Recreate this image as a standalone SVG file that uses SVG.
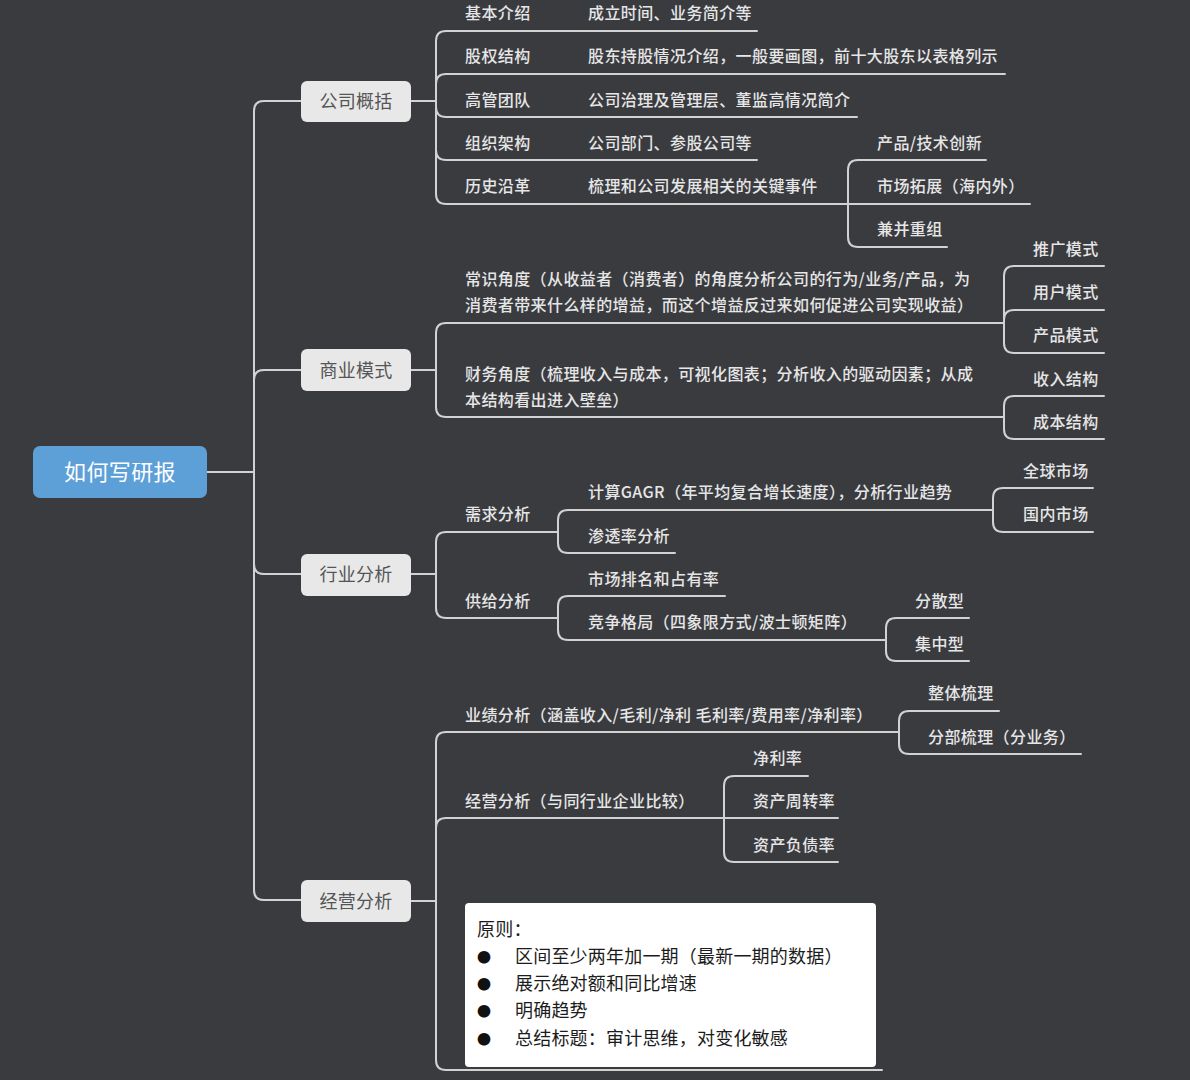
<svg xmlns="http://www.w3.org/2000/svg" width="1190" height="1080" viewBox="0 0 1190 1080">
<style>
.ln{fill:none;stroke:#d2d2d2;stroke-width:2;stroke-linecap:round}
.t{font-family:"Noto Sans CJK SC","Noto Sans",sans-serif;font-size:16px;font-weight:500;letter-spacing:0.4px;fill:#e6e6e6}
.n1{fill:#e8e8e8}
.n1t{font-family:"Noto Sans CJK SC","Noto Sans",sans-serif;font-size:18px;fill:#555555;text-anchor:middle;letter-spacing:0.3px}
.rt{font-family:"Noto Sans CJK SC","Noto Sans",sans-serif;font-size:22px;fill:#ffffff;text-anchor:middle;letter-spacing:0.4px}
.nt{font-family:"Noto Sans CJK SC","Noto Sans",sans-serif;font-size:18px;fill:#1c1c1c;letter-spacing:0.2px}
.bl{font-family:"Noto Sans CJK SC","DejaVu Sans",sans-serif;font-size:14px;fill:#111111;text-anchor:middle}
</style>
<rect x="0" y="0" width="1190" height="1080" fill="#3a3b3f"/>
<g id="connectors">
<path class="ln" d="M207,472 L254,472"/>
<path class="ln" d="M254,472 L254,111 Q254,101 264,101 L301,101"/>
<path class="ln" d="M254,472 L254,380 Q254,370 264,370 L301,370"/>
<path class="ln" d="M254,472 L254,564 Q254,574 264,574 L301,574"/>
<path class="ln" d="M254,472 L254,890 Q254,900 264,900 L301,900"/>
<path class="ln" d="M411,101 L436,101"/>
<path class="ln" d="M436,101 L436,41 Q436,31 446,31 L757,31"/>
<path class="ln" d="M436,101 L436,84 Q436,74 446,74 L1005,74"/>
<path class="ln" d="M436,101 L436,107 Q436,117 446,117 L857,117"/>
<path class="ln" d="M436,101 L436,150 Q436,160 446,160 L757,160"/>
<path class="ln" d="M436,101 L436,194 Q436,204 446,204 L848,204"/>
<path class="ln" d="M848,204 L848,170 Q848,160 858,160 L986,160"/>
<path class="ln" d="M848,204 L1030,204"/>
<path class="ln" d="M848,204 L848,237 Q848,247 858,247 L947,247"/>
<path class="ln" d="M411,370 L436,370"/>
<path class="ln" d="M436,370 L436,333 Q436,323 446,323 L1004,323"/>
<path class="ln" d="M436,370 L436,407 Q436,417 446,417 L1004,417"/>
<path class="ln" d="M1004,323 L1004,276 Q1004,266 1014,266 L1104,266"/>
<path class="ln" d="M1004,323 L1004,320 Q1004,310 1014,310 L1104,310"/>
<path class="ln" d="M1004,323 L1004,343 Q1004,353 1014,353 L1104,353"/>
<path class="ln" d="M1004,417 L1004,406 Q1004,396 1014,396 L1104,396"/>
<path class="ln" d="M1004,417 L1004,429 Q1004,439 1014,439 L1104,439"/>
<path class="ln" d="M411,574 L436,574"/>
<path class="ln" d="M436,574 L436,542 Q436,532 446,532 L558,532"/>
<path class="ln" d="M436,574 L436,608 Q436,618 446,618 L558,618"/>
<path class="ln" d="M558,532 L558,520 Q558,510 568,510 L993,510"/>
<path class="ln" d="M558,532 L558,543 Q558,553 568,553 L675,553"/>
<path class="ln" d="M993,510 L993,498 Q993,488 1003,488 L1093,488"/>
<path class="ln" d="M993,510 L993,522 Q993,532 1003,532 L1093,532"/>
<path class="ln" d="M558,618 L558,606 Q558,596 568,596 L725,596"/>
<path class="ln" d="M558,618 L558,630 Q558,640 568,640 L886,640"/>
<path class="ln" d="M886,640 L886,628 Q886,618 896,618 L969,618"/>
<path class="ln" d="M886,640 L886,651 Q886,661 896,661 L969,661"/>
<path class="ln" d="M411,901 L436,901"/>
<path class="ln" d="M436,901 L436,742 Q436,732 446,732 L899,732"/>
<path class="ln" d="M436,901 L436,828 Q436,818 446,818 L724,818"/>
<path class="ln" d="M436,901 L436,1060 Q436,1070 446,1070 L882,1070"/>
<path class="ln" d="M899,732 L899,721 Q899,711 909,711 L999,711"/>
<path class="ln" d="M899,732 L899,744 Q899,754 909,754 L1081,754"/>
<path class="ln" d="M724,818 L724,786 Q724,776 734,776 L808,776"/>
<path class="ln" d="M724,818 L838,818"/>
<path class="ln" d="M724,818 L724,852 Q724,862 734,862 L838,862"/>
</g>
<g id="root">
<rect x="33" y="446" width="174" height="52" rx="7" fill="#5da0d8"/>
<text class="rt" x="120" y="480">如何写研报</text>
</g>
<g id="n-gsgk"><rect class="n1" x="301" y="81" width="110" height="41" rx="6"/><text class="n1t" x="356" y="107.5">公司概括</text></g>
<g id="n-syms"><rect class="n1" x="301" y="349" width="110" height="42" rx="6"/><text class="n1t" x="356" y="376.5">商业模式</text></g>
<g id="n-hyfx"><rect class="n1" x="301" y="554" width="110" height="42" rx="6"/><text class="n1t" x="356" y="580.5">行业分析</text></g>
<g id="n-jyfx"><rect class="n1" x="301" y="880" width="110" height="42" rx="6"/><text class="n1t" x="356" y="907.5">经营分析</text></g>

<g id="n-jbjs"><text class="t" x="465" y="19">基本介绍</text></g>
<g id="n-gqjg"><text class="t" x="465" y="62">股权结构</text></g>
<g id="n-ggtd"><text class="t" x="465" y="106">高管团队</text></g>
<g id="n-zzjg"><text class="t" x="465" y="149">组织架构</text></g>
<g id="n-lsyg"><text class="t" x="465" y="192">历史沿革</text></g>
<g id="n-clsj"><text class="t" x="588" y="19">成立时间、业务简介等</text></g>
<g id="n-gdcg"><text class="t" x="588" y="62">股东持股情况介绍，一般要画图，前十大股东以表格列示</text></g>
<g id="n-gszl"><text class="t" x="588" y="106">公司治理及管理层、董监高情况简介</text></g>
<g id="n-gsbm"><text class="t" x="588" y="149">公司部门、参股公司等</text></g>
<g id="n-slgs"><text class="t" x="588" y="192">梳理和公司发展相关的关键事件</text></g>
<g id="n-cpjs"><text class="t" x="877" y="149">产品/技术创新</text></g>
<g id="n-sctz"><text class="t" x="877" y="192">市场拓展（海内外）</text></g>
<g id="n-jbcz"><text class="t" x="877" y="235">兼并重组</text></g>

<g id="n-csjd"><text class="t" x="465" y="285">常识角度（从收益者（消费者）的角度分析公司的行为/业务/产品，为</text><text class="t" x="465" y="311">消费者带来什么样的增益，而这个增益反过来如何促进公司实现收益）</text></g>
<g id="n-cwjd"><text class="t" x="465" y="380">财务角度（梳理收入与成本，可视化图表；分析收入的驱动因素；从成</text><text class="t" x="465" y="406">本结构看出进入壁垒）</text></g>
<g id="n-tgms"><text class="t" x="1033" y="255">推广模式</text></g>
<g id="n-yhms"><text class="t" x="1033" y="298">用户模式</text></g>
<g id="n-cpms"><text class="t" x="1033" y="341">产品模式</text></g>
<g id="n-srjg"><text class="t" x="1033" y="385">收入结构</text></g>
<g id="n-cbjg"><text class="t" x="1033" y="428">成本结构</text></g>

<g id="n-xqfx"><text class="t" x="465" y="520">需求分析</text></g>
<g id="n-gjfx"><text class="t" x="465" y="607">供给分析</text></g>
<g id="n-gagr"><text class="t" x="588" y="498">计算GAGR（年平均复合增长速度），分析行业趋势</text></g>
<g id="n-stl"><text class="t" x="588" y="542">渗透率分析</text></g>
<g id="n-scpm"><text class="t" x="588" y="585">市场排名和占有率</text></g>
<g id="n-jzgj"><text class="t" x="588" y="628">竞争格局（四象限方式/波士顿矩阵）</text></g>
<g id="n-qqsc"><text class="t" x="1023" y="477">全球市场</text></g>
<g id="n-gnsc"><text class="t" x="1023" y="520">国内市场</text></g>
<g id="n-fsx"><text class="t" x="915" y="607">分散型</text></g>
<g id="n-jzx"><text class="t" x="915" y="650">集中型</text></g>

<g id="n-yjfx"><text class="t" x="465" y="721">业绩分析（涵盖收入/毛利/净利 毛利率/费用率/净利率）</text></g>
<g id="n-jyfx2"><text class="t" x="465" y="807">经营分析（与同行业企业比较）</text></g>
<g id="n-ztsl"><text class="t" x="928" y="699">整体梳理</text></g>
<g id="n-fbsl"><text class="t" x="928" y="743">分部梳理（分业务）</text></g>
<g id="n-jll"><text class="t" x="753" y="764">净利率</text></g>
<g id="n-zczzl"><text class="t" x="753" y="807">资产周转率</text></g>
<g id="n-zcfzl"><text class="t" x="753" y="851">资产负债率</text></g>

<g id="note">
<rect x="465" y="903" width="411" height="164" rx="4" fill="#ffffff"/>
<text class="nt" x="477" y="936">原则：</text>
<text class="bl" x="484" y="962">●</text><text class="nt" x="515" y="963">区间至少两年加一期（最新一期的数据）</text>
<text class="bl" x="484" y="989">●</text><text class="nt" x="515" y="990">展示绝对额和同比增速</text>
<text class="bl" x="484" y="1016">●</text><text class="nt" x="515" y="1017">明确趋势</text>
<text class="bl" x="484" y="1044">●</text><text class="nt" x="515" y="1045">总结标题：审计思维，对变化敏感</text>
</g>
</svg>
